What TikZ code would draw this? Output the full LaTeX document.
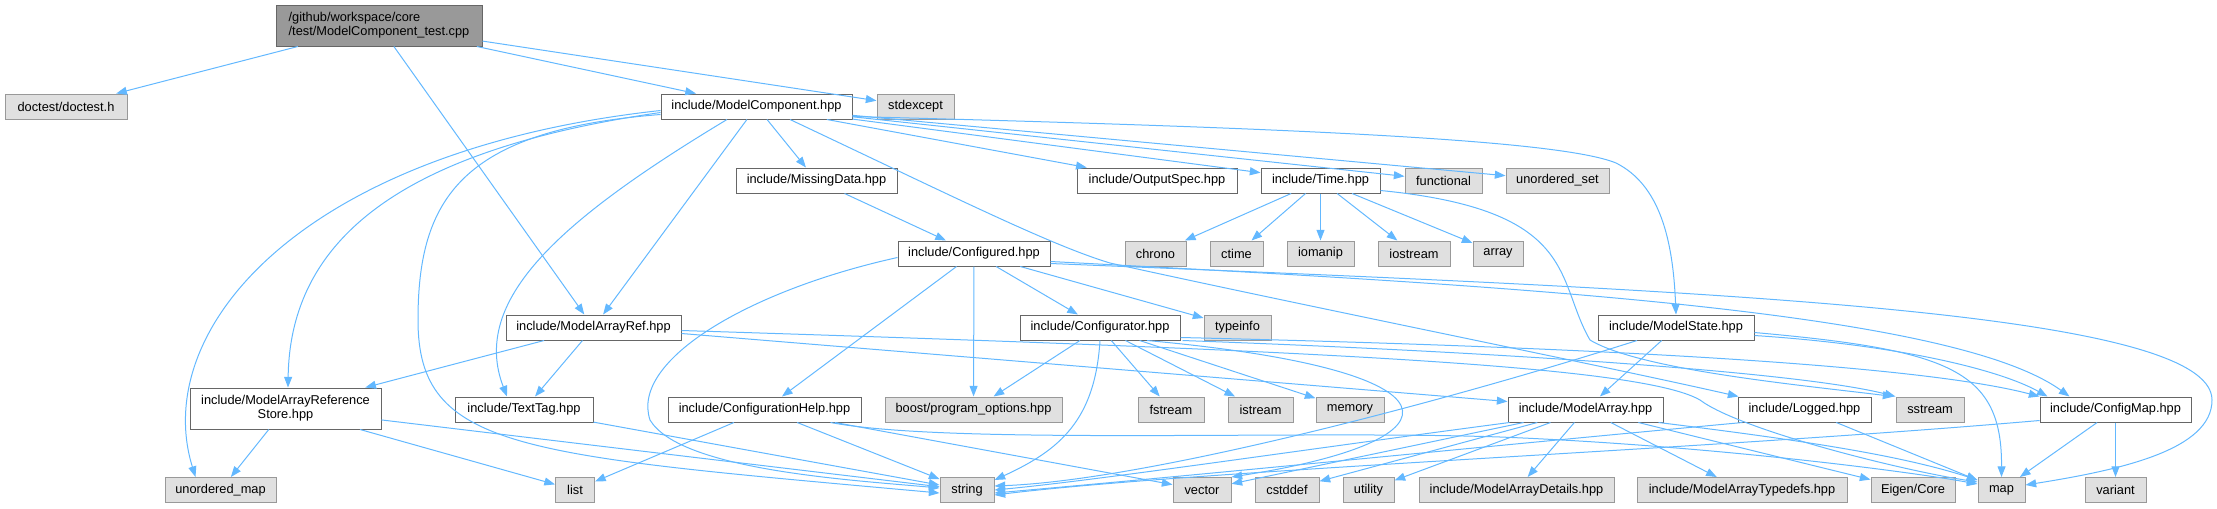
\documentclass[tikz,border=0pt]{standalone}
\usepackage{fontspec}
\setmainfont{Liberation Sans}
\usetikzlibrary{arrows.meta,calc}
\definecolor{edgec}{HTML}{63B8FF}
\definecolor{wborder}{HTML}{666666}
\definecolor{gfill}{HTML}{E0E0E0}
\definecolor{gborder}{HTML}{999999}
\definecolor{rootfill}{HTML}{999999}
\tikzset{
  base/.style={rectangle, inner sep=0pt, minimum height=18.75pt, font=\fontsize{9.6}{10.5}\selectfont, line width=0.75pt},
  wbox/.style={base, draw=wborder, fill=white},
  gbox/.style={base, draw=gborder, fill=gfill},
  rbox/.style={base, draw=wborder, fill=rootfill, minimum height=30.75pt, align=left},
  dep/.style={draw=edgec, line width=0.75pt, -{Triangle[length=8pt,width=6pt]}},
}
\begin{document}
\begin{tikzpicture}[x=0.75pt, y=-0.75pt]
\useasboundingbox (0,0) rectangle (2217,508);
% row 1-2
\node[rbox, minimum width=154.5pt] (root) at (379,25.5) {/github/workspace/core\\/test/ModelComponent\_test.cpp};
\node[gbox, minimum width=91.5pt] (doctest) at (66,106.5) {doctest/doctest.h};
\node[wbox, minimum width=143.25pt] (mc) at (756.5,106.5) {include/ModelComponent.hpp};
\node[gbox, minimum width=57.75pt] (stdexcept) at (915.5,106.5) {stdexcept};
% row 3
\node[wbox, minimum width=120.75pt] (missing) at (816.5,180.5) {include/MissingData.hpp};
\node[wbox, minimum width=120pt] (output) at (1157,180.5) {include/OutputSpec.hpp};
\node[wbox, minimum width=89.25pt] (time) at (1320.5,180.5) {include/Time.hpp};
\node[gbox, minimum width=57.75pt] (functional) at (1443.5,180.5) {functional};
\node[gbox, minimum width=77.25pt] (uset) at (1557.5,180.5) {unordered\_set};
% row 4
\node[wbox, minimum width=114pt] (configured) at (974,253.5) {include/Configured.hpp};
\node[gbox, minimum width=45.75pt] (chrono) at (1155.5,253.5) {chrono};
\node[gbox, minimum width=39.75pt] (ctime) at (1236.5,253.5) {ctime};
\node[gbox, minimum width=50.25pt] (iomanip) at (1320.5,253.5) {iomanip};
\node[gbox, minimum width=54pt] (iostream) at (1414,253.5) {iostream};
\node[gbox, minimum width=37.5pt] (array) at (1498,253.5) {array};
% row 5
\node[wbox, minimum width=131.25pt] (mar) at (593.5,327.5) {include/ModelArrayRef.hpp};
\node[wbox, minimum width=120pt] (configurator) at (1100,327.5) {include/Configurator.hpp};
\node[gbox, minimum width=50.25pt] (typeinfo) at (1237.5,327.5) {typeinfo};
\node[wbox, minimum width=117pt] (mstate) at (1676,327.5) {include/ModelState.hpp};
% row 6
\node[wbox, minimum width=143.25pt, minimum height=30.75pt, align=center] (mars) at (285.5,408.5) {include/ModelArrayReference\\Store.hpp};
\node[wbox, minimum width=103.5pt] (texttag) at (524,409.5) {include/TextTag.hpp};
\node[wbox, minimum width=144.75pt] (cfghelp) at (764.5,409.5) {include/ConfigurationHelp.hpp};
\node[gbox, minimum width=132.75pt] (boost) at (973.5,409.5) {boost/program\_options.hpp};
\node[gbox, minimum width=49.5pt] (fstream) at (1171,409.5) {fstream};
\node[gbox, minimum width=48.75pt] (istream) at (1260.5,409.5) {istream};
\node[gbox, minimum width=51pt] (memory) at (1350,409.5) {memory};
\node[wbox, minimum width=116.25pt] (marray) at (1585.5,409.5) {include/ModelArray.hpp};
\node[wbox, minimum width=99.75pt] (logged) at (1804.5,409.5) {include/Logged.hpp};
\node[gbox, minimum width=51pt] (sstream) at (1930,409.5) {sstream};
\node[wbox, minimum width=113.25pt] (configmap) at (2115.5,409.5) {include/ConfigMap.hpp};
% row 7
\node[gbox, minimum width=83.25pt] (umap) at (220.5,490) {unordered\_map};
\node[gbox, minimum width=29.25pt] (list) at (575,490) {list};
\node[gbox, minimum width=40.5pt] (string) at (967,490) {string};
\node[gbox, minimum width=43.5pt] (vector) at (1202,490) {vector};
\node[gbox, minimum width=48pt] (cstddef) at (1287,490) {cstddef};
\node[gbox, minimum width=38.25pt] (utility) at (1368.5,490) {utility};
\node[gbox, minimum width=146.25pt] (madetails) at (1516.5,490) {include/ModelArrayDetails.hpp};
\node[gbox, minimum width=157.5pt] (matypedefs) at (1742,490) {include/ModelArrayTypedefs.hpp};
\node[gbox, minimum width=63pt] (eigen) at (1913,490) {Eigen/Core};
\node[gbox, minimum width=35.25pt] (map) at (2001.5,490) {map};
\node[gbox, minimum width=45.75pt] (variant) at (2115.5,490) {variant};

% root edges
\draw[dep] (root) -- (doctest);
\draw[dep] (root) -- (mc);
\draw[dep] (root) -- (stdexcept);
\draw[dep] (root) -- (mar);
% ModelComponent edges
\draw[dep] (mc) -- (missing);
\draw[dep] (mc) -- (output);
\draw[dep] (mc) -- (time);
\draw[dep] (mc) -- (functional);
\draw[dep] (mc) -- (uset);
\draw[dep] ($(mc.east)+(0,10)$) .. controls (1300,128) and (1560,140) .. (1616,163) .. controls (1660,185) and (1673,240) .. (mstate.north);
\draw[dep] (mc) -- (mar);
\draw[dep] ($(mc.south)+(-29.5,0)$) .. controls (560,220) and (470,300) .. ($(texttag.north)+(-17,0)$);
\draw[dep] ($(mc.west)+(0,4)$) .. controls (300,150) and (150,330) .. ($(umap.north)+(-25,0)$);
\draw[dep] ($(mc.west)+(0,6)$) .. controls (400,150) and (290,240) .. ($(mars.north)+(2.5,0)$);
\draw[dep] ($(mc.west)+(0,8)$) .. controls (460,130) and (418,200) .. (418,320) .. controls (418,450) and (520,455) .. ($(string.west)+(0,3)$);
\draw[dep] ($(mc.south)+(33.5,0)$) .. controls (950,195) and (1050,245) .. (1110,263) .. controls (1300,305) and (1600,365) .. ($(logged.north west)+(1,0)$);
% MissingData
\draw[dep] (missing) -- (configured);
% Configured
\draw[dep] (configured) -- (cfghelp);
\draw[dep] (configured) -- (boost);
\draw[dep] (configured) -- (configurator);
\draw[dep] (configured) -- (typeinfo);
\draw[dep] ($(configured.west)+(0,4)$) .. controls (750,290) and (630,360) .. (650,420) .. controls (680,470) and (850,480) .. ($(string.west)+(0,-2)$);
\draw[dep] ($(configured.east)+(0,8)$) .. controls (1500,285) and (1950,310) .. ($(configmap.north west)+(30,0)$);
\draw[dep] ($(configured.east)+(0,10)$) .. controls (1700,290) and (2212,310) .. (2212,400) .. controls (2212,450) and (2120,470) .. ($(map.east)+(0,-5)$);
% Configurator
\draw[dep] (configurator) -- (boost);
\draw[dep] (configurator) -- (fstream);
\draw[dep] (configurator) -- (istream);
\draw[dep] (configurator) -- (memory);
\draw[dep] (configurator.south) .. controls (1095,420) and (1060,450) .. ($(string.east)+(0,-10)$);
\draw[dep] ($(configurator.south)+(47,0)$) .. controls (1470,370) and (1470,440) .. (vector.north east);
\draw[dep] ($(configurator.south east)+(2,0)$) .. controls (1500,352) and (1800,372) .. (sstream.north west);
\draw[dep] ($(configurator.south east)+(0,-3)$) .. controls (1500,345) and (1900,360) .. (configmap.north west);
% ModelState
\draw[dep] (mstate) -- (marray);
\draw[dep] ($(mstate.south)+(-39,0)$) .. controls (1450,400) and (1150,480) .. ($(string.east)+(0,-4)$);
\draw[dep] ($(mstate.east)+(0,8)$) .. controls (1900,345) and (2000,370) .. ($(configmap.north west)+(8,0)$);
\draw[dep] ($(mstate.east)+(0,5)$) .. controls (1950,350) and (2002,370) .. (map.north);
% ModelArrayRef
\draw[dep] (mar) -- (mars);
\draw[dep] (mar) -- (texttag);
\draw[dep] ($(mar.east)+(0,6)$) -- ($(marray.west)+(0,-8)$);
\draw[dep] ($(mar.east)+(0,3)$) .. controls (1300,350) and (1640,365) .. (1700,400) .. controls (1740,430) and (1900,470) .. ($(map.west)+(0,-8)$);
% ConfigurationHelp
\draw[dep] (cfghelp) -- (list);
\draw[dep] (cfghelp) -- (string);
\draw[dep] (cfghelp) -- (vector);
\draw[dep] ($(cfghelp.south east)+(-31,0)$) .. controls (950,445) and (1300,430) .. (1500,437) .. controls (1700,445) and (1900,470) .. ($(map.west)+(0,-6)$);
% ModelArrayReferenceStore
\draw[dep] (mars) -- (umap);
\draw[dep] (mars) -- (list);
\draw[dep] (mars) -- (string);
% TextTag
\draw[dep] (texttag) -- (string);
% Time
\draw[dep] (time) -- (chrono);
\draw[dep] (time) -- (ctime);
\draw[dep] (time) -- (iomanip);
\draw[dep] (time) -- (iostream);
\draw[dep] (time) -- (array);
\draw[dep] ($(time.south east)+(0,-3)$) .. controls (1580,210) and (1555,280) .. (1590,340) .. controls (1640,370) and (1800,385) .. ($(sstream.north west)+(-2,0)$);
% ModelArray
\draw[dep] ($(marray.south west)+(2,0)$) .. controls (1300,450) and (1100,480) .. (string.east);
\draw[dep] (marray) -- (vector);
\draw[dep] (marray) -- (cstddef);
\draw[dep] (marray) -- (utility);
\draw[dep] (marray) -- (madetails);
\draw[dep] (marray) -- (matypedefs);
\draw[dep] (marray) -- (eigen);
\draw[dep] ($(marray.south east)+(-5,0)$) .. controls (1800,440) and (1900,455) .. ($(map.west)+(0,-10)$);
% Logged
\draw[dep] ($(logged.south west)+(5,0)$) .. controls (1500,445) and (1200,475) .. ($(string.east)+(0,3)$);
\draw[dep] (logged) -- (map);
% ConfigMap
\draw[dep] ($(configmap.south west)+(0,-2)$) .. controls (1700,450) and (1200,470) .. ($(string.east)+(0,5)$);
\draw[dep] (configmap) -- (map);
\draw[dep] (configmap) -- (variant);
\end{tikzpicture}
\end{document}
